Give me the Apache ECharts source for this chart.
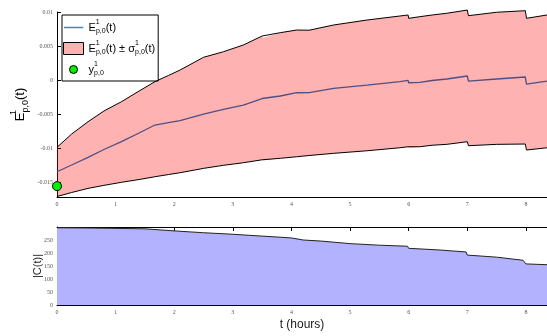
<!DOCTYPE html>
<html>
<head>
<meta charset="utf-8">
<script src="https://cdn.jsdelivr.net/npm/echarts@6/dist/echarts.min.js"></script>
<style>html,body{margin:0;padding:0;background:#fff}#c{width:547px;height:336px}</style>
</head>
<body>
<div id="c"></div>
<script>
// ---- data ----
var tHours = [0, 0.25, 0.53, 0.8, 1.1, 1.4, 1.67, 1.9, 2.1, 2.5, 2.84, 3.18, 3.5, 3.52, 3.81, 4.09, 4.3, 4.72, 5.29, 5.85, 5.99, 6.0, 6.19, 6.4, 6.65, 7.0, 7.02, 7.5, 7.99, 8.01, 8.36];
var meanE = [-0.01349, -0.0125, -0.01137, -0.01022, -0.00907, -0.00779, -0.00662, -0.00625, -0.00596, -0.005, -0.00431, -0.00368, -0.00272, -0.00294, -0.00235, -0.00187, -0.00184, -0.00122, -0.00074, -0.00025, -0.00004, -0.0004, -0.00034, -0.00007, 0.00015, 0.00059, -0.00015, 0.00015, 0.00044, -0.00059, -0.00015];
var upperE = [-0.0099, -0.00794, -0.00613, -0.00456, -0.00319, -0.00162, -0.00025, 0.00066, 0.00147, 0.00334, 0.00416, 0.00515, 0.00647, 0.0062, 0.00696, 0.00735, 0.00732, 0.00809, 0.00882, 0.00941, 0.00956, 0.00907, 0.00931, 0.00956, 0.00981, 0.01029, 0.00946, 0.00996, 0.01019, 0.00907, 0.00956];
var lowerE = [-0.01713, -0.01654, -0.01593, -0.01549, -0.01504, -0.01463, -0.01422, -0.0139, -0.01363, -0.01299, -0.01254, -0.01216, -0.01173, -0.01184, -0.01151, -0.01128, -0.0111, -0.01078, -0.0104, -0.00996, -0.00981, -0.01004, -0.00981, -0.00959, -0.00946, -0.00907, -0.00966, -0.00946, -0.00941, -0.01029, -0.00996];
var obsT = [0];
var obsY = [-0.0156];

var tC = [0, 0.6, 1.5, 2.0, 2.5, 3.0, 3.5, 4.0, 4.2, 4.5, 5.0, 5.5, 5.98, 6.0, 6.5, 6.98, 7.0, 7.5, 7.95, 8.0, 8.36];
var absC = [297, 296, 293, 285, 278, 272, 265, 258, 250, 246, 236, 230, 226, 218, 212, 204, 192, 184, 172, 158, 155];

var xTicks = [0, 1, 2, 3, 4, 5, 6, 7, 8];
var yTicksTop = [-0.015, -0.01, -0.005, 0, 0.005, 0.01];
var yTicksBottom = [0, 50, 100, 150, 200, 250];

// ---- build ----
function pairs(xs, ys) { return xs.map(function (x, i) { return [x, ys[i]]; }); }

var legendText = {
  mean: 'E{sup|1}{sub|p,0}(t)',
  band: 'E{sup|1}{sub|p,0}(t) ± σ{sup|1}{sub|p,0}(t)',
  obs: 'y{sup|1}{sub|p,0}'
};
var richSS = {
  sup: { fontSize: 7, verticalAlign: 'top', width: 0.1, align: 'left', fontFamily: 'Liberation Sans', color: '#000', padding: [1, 0, 0, 0] },
  sub: { fontSize: 7, verticalAlign: 'bottom', fontFamily: 'Liberation Sans', color: '#000', padding: [0, 0, 2, 0] }
};
function svgIcon(body) {
  return 'image://data:image/svg+xml;utf8,' + encodeURIComponent('<svg xmlns="http://www.w3.org/2000/svg" width="20" height="12" viewBox="0 0 20 12">' + body + '</svg>');
}
var dotIcon = svgIcon('<circle cx="10" cy="6" r="4" fill="#00ee00" stroke="#000" stroke-width="1"/>');
var lineIcon = svgIcon('<line x1="0" y1="6" x2="20" y2="6" stroke="#3a8ad0" stroke-width="1.6"/>');

function renderBand(params, api) {
  var pts = [];
  for (var i = 0; i < tHours.length; i++) pts.push(api.coord([tHours[i], upperE[i]]));
  for (var j = tHours.length - 1; j >= 0; j--) pts.push(api.coord([tHours[j], lowerE[j]]));
  return { type: 'polygon', shape: { points: pts }, style: { fill: 'rgba(255,0,0,0.3)', stroke: 'none' } };
}

var tickFont = { fontFamily: 'Liberation Serif', fontSize: 6, color: '#555' };
var chart = echarts.init(document.getElementById('c'));
chart.setOption({
  animation: false,
  backgroundColor: '#fff',
  grid: [
    { left: 57, top: 12, height: 185, right: 0, containLabel: false, outerBoundsMode: 'none' },
    { left: 57, top: 227, height: 78, right: 0, containLabel: false, outerBoundsMode: 'none' }
  ],
  legend: {
    left: 62, top: 15, orient: 'vertical',
    backgroundColor: '#fff', borderColor: '#000', borderWidth: 1,
    padding: [3, 3, 2, 1], itemGap: 2, itemWidth: 20, itemHeight: 12,
    data: [
      { name: 'mean', icon: lineIcon },
      { name: 'band', icon: 'rect', itemStyle: { color: 'rgba(255,0,0,0.3)', borderColor: '#000', borderWidth: 1 } },
      { name: 'obs', icon: dotIcon }
    ],
    formatter: function (n) { return legendText[n]; },
    textStyle: {
      fontFamily: 'Liberation Sans', fontSize: 11, color: '#000', lineHeight: 19,
      rich: richSS
    }
  },
  xAxis: [
    { type: 'value', gridIndex: 0, min: 0, max: 8.36,
      axisLine: { onZero: false, lineStyle: { color: '#000', width: 1 } },
      axisTick: { show: false }, splitLine: { show: false },
      axisLabel: Object.assign({ customValues: xTicks, margin: 4 }, tickFont) },
    { type: 'value', gridIndex: 1, min: 0, max: 8.36, position: 'bottom',
      name: 't (hours)', nameLocation: 'middle', nameGap: 14, nameMoveOverlap: false,
      nameTextStyle: { fontFamily: 'Liberation Sans', fontSize: 12, color: '#222' },
      axisLine: { onZero: false, lineStyle: { color: '#000', width: 1 } },
      axisTick: { inside: true, length: 4, customValues: xTicks, lineStyle: { color: '#000' } },
      splitLine: { show: false },
      axisLabel: Object.assign({ customValues: xTicks, margin: 4 }, tickFont) },
    { type: 'value', gridIndex: 1, min: 0, max: 8.36, position: 'top',
      axisLine: { onZero: false, lineStyle: { color: '#000', width: 1 } },
      axisTick: { inside: true, length: 4, customValues: xTicks, lineStyle: { color: '#000' } },
      splitLine: { show: false }, axisLabel: { show: false } }
  ],
  yAxis: [
    { type: 'value', gridIndex: 0, min: -0.0172, max: 0.01,
      name: 'E{sup|1}{sub|p,0}(t)', nameLocation: 'middle', nameGap: 25, nameRotate: 90, nameMoveOverlap: false,
      nameTextStyle: { fontFamily: 'Liberation Sans', fontSize: 13, color: '#000', lineHeight: 24,
        rich: { sup: { fontSize: 9, verticalAlign: 'top', width: 0.1, align: 'left', fontFamily: 'Liberation Sans', color: '#000', padding: [1, 0, 0, 0] },
                sub: { fontSize: 9, verticalAlign: 'bottom', fontFamily: 'Liberation Sans', color: '#000', padding: [0, 0, 2, 0] } } },
      axisLine: { show: true, onZero: false, lineStyle: { color: '#000', width: 1 } },
      axisTick: { show: true, inside: true, length: 4, customValues: yTicksTop, lineStyle: { color: '#000' } },
      splitLine: { show: false },
      axisLabel: Object.assign({ customValues: yTicksTop, margin: 4, formatter: function (v) { return String(v); } }, tickFont) },
    { type: 'value', gridIndex: 1, min: 0, max: 300,
      name: '|C(t)|', nameLocation: 'middle', nameGap: 14, nameRotate: 90, nameMoveOverlap: false,
      nameTextStyle: { fontFamily: 'Liberation Sans', fontSize: 11, color: '#222' },
      axisLine: { show: true, onZero: false, lineStyle: { color: '#000', width: 1 } },
      axisTick: { show: true, inside: true, length: 4, customValues: yTicksBottom, lineStyle: { color: '#000' } },
      splitLine: { show: false },
      axisLabel: Object.assign({ customValues: yTicksBottom, margin: 4 }, tickFont) }
  ],
  series: [
    { name: 'mean', type: 'line', xAxisIndex: 0, yAxisIndex: 0, data: pairs(tHours, meanE),
      symbol: 'none', clip: false, lineStyle: { color: '#0072bd', width: 1.3 }, itemStyle: { color: '#0072bd' }, z: 2 },
    { name: 'band', type: 'custom', xAxisIndex: 0, yAxisIndex: 0, data: [[0, 0]], clip: false,
      renderItem: renderBand, itemStyle: { color: 'rgba(255,0,0,0.3)' }, z: 3 },
    { name: 'upper', type: 'line', xAxisIndex: 0, yAxisIndex: 0, data: pairs(tHours, upperE),
      symbol: 'none', clip: false, lineStyle: { color: '#000', width: 1 }, z: 4 },
    { name: 'lower', type: 'line', xAxisIndex: 0, yAxisIndex: 0, data: pairs(tHours, lowerE),
      symbol: 'none', clip: false, lineStyle: { color: '#000', width: 1 }, z: 4 },
    { name: 'obs', type: 'scatter', xAxisIndex: 0, yAxisIndex: 0, data: pairs(obsT, obsY),
      symbolSize: 9, clip: false, itemStyle: { color: '#00ee00', borderColor: '#000', borderWidth: 1, opacity: 1 }, z: 5 },
    { name: 'C', type: 'line', xAxisIndex: 1, yAxisIndex: 1, data: pairs(tC, absC),
      symbol: 'none', lineStyle: { color: '#222', width: 1 },
      areaStyle: { color: '#b2b2ff', opacity: 1 }, z: 2 }
  ]
});
</script>
</body>
</html>
